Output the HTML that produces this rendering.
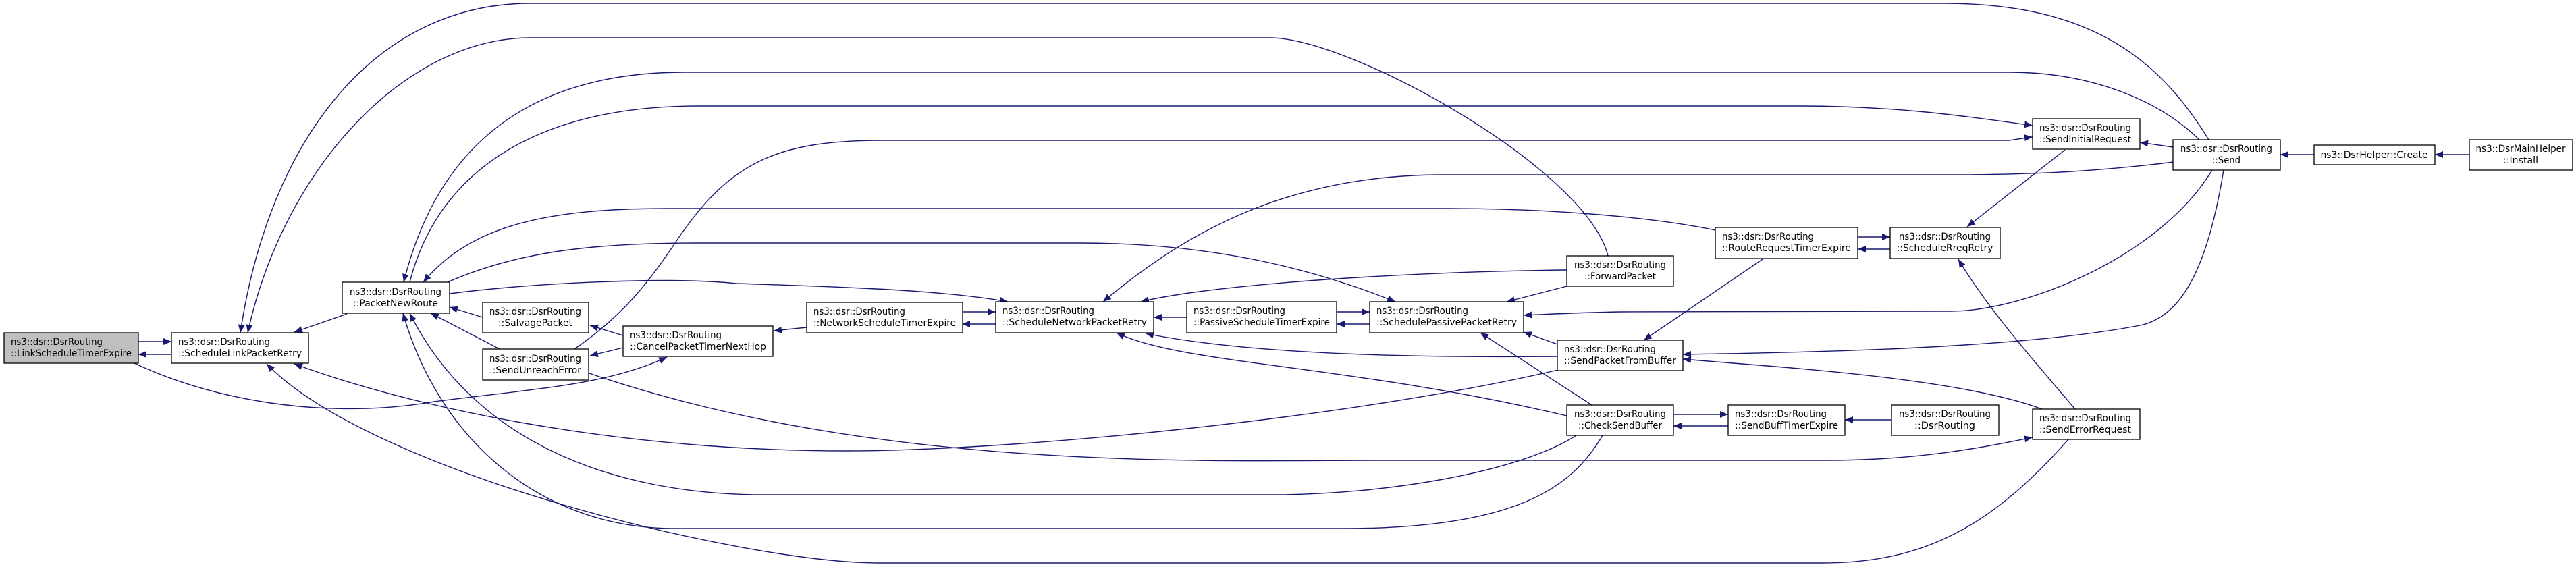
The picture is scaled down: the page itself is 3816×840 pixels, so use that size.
<!DOCTYPE html>
<html><head><meta charset="utf-8">
<style>
html,body{margin:0;padding:0;background:#fff;}
svg{display:block;}
text{font-family:"DejaVu Sans","Liberation Sans",sans-serif;font-size:14px;fill:#000;}
</style></head>
<body>
<svg width="3816" height="840" viewBox="0 0 3816 840" xmlns="http://www.w3.org/2000/svg">
<defs>
<marker id="a" viewBox="0 0 12 10" refX="12" refY="5" markerWidth="12" markerHeight="10" markerUnits="userSpaceOnUse" orient="auto">
<path d="M0,0 L12,5 L0,10 z" fill="#191970"/>
</marker>
</defs>
<g fill="none" stroke="#191970" stroke-width="1.4">
<path d="M205,506 L254,506" marker-end="url(#a)"/>
<path d="M254,525 L205,525" marker-end="url(#a)"/>
<path d="M514,465 L436,492" marker-end="url(#a)"/>
<path d="M3272,207 C3200,90 3100,5 2880,5 L785,5 C560,5 400,200 356,493" marker-end="url(#a)"/>
<path d="M2382,379 C2350,250 2000,56 1882,56 L785,56 C600,56 420,250 367,493" marker-end="url(#a)"/>
<path d="M3258,207 C3200,150 3100,107 2977,107 L1014,107 C750,107 640,250 598,418" marker-end="url(#a)"/>
<path d="M607,418 C650,250 800,157 1033,157 L2667,157 C2800,157 2900,170 3011,186" marker-end="url(#a)"/>
<path d="M851,517 C920,470 960,420 1000,360 C1080,240 1150,208 1308,208 L2977,208 C2990,206 3000,204 3011,203" marker-end="url(#a)"/>
<path d="M3220,240 C3100,255 3000,259 2880,259 L2137,259 C1900,259 1750,350 1634,447" marker-end="url(#a)"/>
<path d="M2541,341 C2450,322 2300,309 2149,309 L989,309 C820,309 700,330 627,418" marker-end="url(#a)"/>
<path d="M663,418 C750,380 850,360 1027,360 L1601,360 C1800,360 1950,400 2067,447" marker-end="url(#a)"/>
<path d="M666,435 C800,418 1000,410 1091,420 C1250,425 1400,430 1493,447" marker-end="url(#a)"/>
<path d="M2321,400 C2100,402 1800,420 1690,447" marker-end="url(#a)"/>
<path d="M2321,424 L2232,447" marker-end="url(#a)"/>
<path d="M715,470 L666,455" marker-end="url(#a)"/>
<path d="M923,497 L874,482" marker-end="url(#a)"/>
<path d="M923,515 L874,527" marker-end="url(#a)"/>
<path d="M1195,485 L1146,490" marker-end="url(#a)"/>
<path d="M1425,462 L1475,462" marker-end="url(#a)"/>
<path d="M1475,480 L1425,480" marker-end="url(#a)"/>
<path d="M1758,470 L1709,470" marker-end="url(#a)"/>
<path d="M1980,462 L2029,462" marker-end="url(#a)"/>
<path d="M2029,480 L1980,480" marker-end="url(#a)"/>
<path d="M3277,252 C3200,380 3000,461 2890,461 L2400,462 C2350,463 2300,465 2257,467" marker-end="url(#a)"/>
<path d="M3294,252 C3270,400 3230,470 3170,482 C3000,515 2700,522 2493,525" marker-end="url(#a)"/>
<path d="M3025,606 C2900,560 2650,545 2493,532" marker-end="url(#a)"/>
<path d="M2307,510 L2257,492" marker-end="url(#a)"/>
<path d="M2358,600 L2193,493" marker-end="url(#a)"/>
<path d="M2307,528 C2100,530 1850,525 1697,494" marker-end="url(#a)"/>
<path d="M2321,616 C2000,540 1750,540 1654,493" marker-end="url(#a)"/>
<path d="M2308,548 C2000,620 1500,668 1256,668 C900,668 600,600 436,539" marker-end="url(#a)"/>
<path d="M3064,651 C2950,780 2850,834 2700,834 L1302,834 C1100,834 550,700 395,539" marker-end="url(#a)"/>
<path d="M2374,645 C2330,720 2250,783 1990,783 L1000,783 C800,783 650,650 597,464" marker-end="url(#a)"/>
<path d="M2335,645 C2250,700 2050,733 1884,733 L1133,733 C900,733 700,650 607,464" marker-end="url(#a)"/>
<path d="M740,517 L638,464" marker-end="url(#a)"/>
<path d="M873,553 C1300,700 1800,682 2037,682 L2706,682 C2850,682 2950,660 3011,648" marker-end="url(#a)"/>
<path d="M199,538 C330,600 500,620 643,595 C800,575 900,570 988,529" marker-end="url(#a)"/>
<path d="M3074,606 C3000,520 2940,450 2901,384" marker-end="url(#a)"/>
<path d="M3059,222 L2914,336" marker-end="url(#a)"/>
<path d="M2752,351 L2800,351" marker-end="url(#a)"/>
<path d="M2800,369 L2752,369" marker-end="url(#a)"/>
<path d="M2611,384 L2435,504" marker-end="url(#a)"/>
<path d="M3219,218 L3170,211" marker-end="url(#a)"/>
<path d="M3428,229 L3378,229" marker-end="url(#a)"/>
<path d="M3658,229 L3607,229" marker-end="url(#a)"/>
<path d="M2479,614 L2560,614" marker-end="url(#a)"/>
<path d="M2560,631 L2479,631" marker-end="url(#a)"/>
<path d="M2802,622 L2733,622" marker-end="url(#a)"/>
</g>
<g stroke="#000" stroke-width="1.3">
<rect x="6" y="493" width="199" height="45" fill="#bfbfbf"/>
<rect x="254" y="493" width="203" height="45" fill="#fff"/>
<rect x="507" y="418" width="159" height="46" fill="#fff"/>
<rect x="715" y="448" width="157" height="45" fill="#fff"/>
<rect x="715" y="517" width="157" height="46" fill="#fff"/>
<rect x="923" y="483" width="222" height="45" fill="#fff"/>
<rect x="1195" y="448" width="231" height="45" fill="#fff"/>
<rect x="1475" y="447" width="234" height="46" fill="#fff"/>
<rect x="1758" y="447" width="222" height="46" fill="#fff"/>
<rect x="2029" y="447" width="228" height="46" fill="#fff"/>
<rect x="2321" y="379" width="158" height="45" fill="#fff"/>
<rect x="2307" y="504" width="186" height="45" fill="#fff"/>
<rect x="2321" y="600" width="158" height="45" fill="#fff"/>
<rect x="2541" y="337" width="211" height="46" fill="#fff"/>
<rect x="2800" y="337" width="163" height="46" fill="#fff"/>
<rect x="2560" y="600" width="173" height="45" fill="#fff"/>
<rect x="2802" y="600" width="159" height="45" fill="#fff"/>
<rect x="3011" y="176" width="159" height="45" fill="#fff"/>
<rect x="3011" y="606" width="159" height="45" fill="#fff"/>
<rect x="3219" y="207" width="159" height="45" fill="#fff"/>
<rect x="3428" y="215" width="179" height="29" fill="#fff"/>
<rect x="3658" y="207" width="153" height="45" fill="#fff"/>
</g>
<g>
<text x="16" y="511" textLength="136" lengthAdjust="spacingAndGlyphs">ns3::dsr::DsrRouting</text>
<text x="16" y="528" textLength="179" lengthAdjust="spacingAndGlyphs">::LinkScheduleTimerExpire</text>
<text x="264" y="511" textLength="136" lengthAdjust="spacingAndGlyphs">ns3::dsr::DsrRouting</text>
<text x="264" y="528" textLength="183" lengthAdjust="spacingAndGlyphs">::ScheduleLinkPacketRetry</text>
<g text-anchor="middle">
<text x="586" y="437" textLength="136" lengthAdjust="spacingAndGlyphs">ns3::dsr::DsrRouting</text>
<text x="586" y="454" textLength="126" lengthAdjust="spacingAndGlyphs">::PacketNewRoute</text>
<text x="793" y="466" textLength="136" lengthAdjust="spacingAndGlyphs">ns3::dsr::DsrRouting</text>
<text x="793" y="483" textLength="110" lengthAdjust="spacingAndGlyphs">::SalvagePacket</text>
<text x="793" y="536" textLength="136" lengthAdjust="spacingAndGlyphs">ns3::dsr::DsrRouting</text>
<text x="793" y="553" textLength="136" lengthAdjust="spacingAndGlyphs">::SendUnreachError</text>
<text x="2400" y="397" textLength="136" lengthAdjust="spacingAndGlyphs">ns3::dsr::DsrRouting</text>
<text x="2400" y="414" textLength="106" lengthAdjust="spacingAndGlyphs">::ForwardPacket</text>
<text x="2400" y="618" textLength="136" lengthAdjust="spacingAndGlyphs">ns3::dsr::DsrRouting</text>
<text x="2400" y="635" textLength="124" lengthAdjust="spacingAndGlyphs">::CheckSendBuffer</text>
<text x="2881" y="355" textLength="136" lengthAdjust="spacingAndGlyphs">ns3::dsr::DsrRouting</text>
<text x="2881" y="372" textLength="143" lengthAdjust="spacingAndGlyphs">::ScheduleRreqRetry</text>
<text x="2881" y="618" textLength="136" lengthAdjust="spacingAndGlyphs">ns3::dsr::DsrRouting</text>
<text x="2881" y="635" textLength="90" lengthAdjust="spacingAndGlyphs">::DsrRouting</text>
<text x="3298" y="225" textLength="136" lengthAdjust="spacingAndGlyphs">ns3::dsr::DsrRouting</text>
<text x="3298" y="242" textLength="42" lengthAdjust="spacingAndGlyphs">::Send</text>
<text x="3517" y="234" textLength="159" lengthAdjust="spacingAndGlyphs">ns3::DsrHelper::Create</text>
<text x="3734" y="225" textLength="133" lengthAdjust="spacingAndGlyphs">ns3::DsrMainHelper</text>
<text x="3734" y="242" textLength="52" lengthAdjust="spacingAndGlyphs">::Install</text>
</g>
<text x="933" y="501" textLength="136" lengthAdjust="spacingAndGlyphs">ns3::dsr::DsrRouting</text>
<text x="933" y="518" textLength="202" lengthAdjust="spacingAndGlyphs">::CancelPacketTimerNextHop</text>
<text x="1205" y="466" textLength="136" lengthAdjust="spacingAndGlyphs">ns3::dsr::DsrRouting</text>
<text x="1205" y="483" textLength="211" lengthAdjust="spacingAndGlyphs">::NetworkScheduleTimerExpire</text>
<text x="1485" y="465" textLength="136" lengthAdjust="spacingAndGlyphs">ns3::dsr::DsrRouting</text>
<text x="1485" y="482" textLength="214" lengthAdjust="spacingAndGlyphs">::ScheduleNetworkPacketRetry</text>
<text x="1768" y="465" textLength="136" lengthAdjust="spacingAndGlyphs">ns3::dsr::DsrRouting</text>
<text x="1768" y="482" textLength="202" lengthAdjust="spacingAndGlyphs">::PassiveScheduleTimerExpire</text>
<text x="2039" y="465" textLength="136" lengthAdjust="spacingAndGlyphs">ns3::dsr::DsrRouting</text>
<text x="2039" y="482" textLength="208" lengthAdjust="spacingAndGlyphs">::SchedulePassivePacketRetry</text>
<text x="2317" y="522" textLength="136" lengthAdjust="spacingAndGlyphs">ns3::dsr::DsrRouting</text>
<text x="2317" y="539" textLength="166" lengthAdjust="spacingAndGlyphs">::SendPacketFromBuffer</text>
<text x="2551" y="355" textLength="136" lengthAdjust="spacingAndGlyphs">ns3::dsr::DsrRouting</text>
<text x="2551" y="372" textLength="191" lengthAdjust="spacingAndGlyphs">::RouteRequestTimerExpire</text>
<text x="2570" y="618" textLength="136" lengthAdjust="spacingAndGlyphs">ns3::dsr::DsrRouting</text>
<text x="2570" y="635" textLength="153" lengthAdjust="spacingAndGlyphs">::SendBuffTimerExpire</text>
<text x="3021" y="194" textLength="136" lengthAdjust="spacingAndGlyphs">ns3::dsr::DsrRouting</text>
<text x="3021" y="211" textLength="136" lengthAdjust="spacingAndGlyphs">::SendInitialRequest</text>
<text x="3021" y="624" textLength="136" lengthAdjust="spacingAndGlyphs">ns3::dsr::DsrRouting</text>
<text x="3021" y="641" textLength="136" lengthAdjust="spacingAndGlyphs">::SendErrorRequest</text>
</g>
</svg>
</body></html>
